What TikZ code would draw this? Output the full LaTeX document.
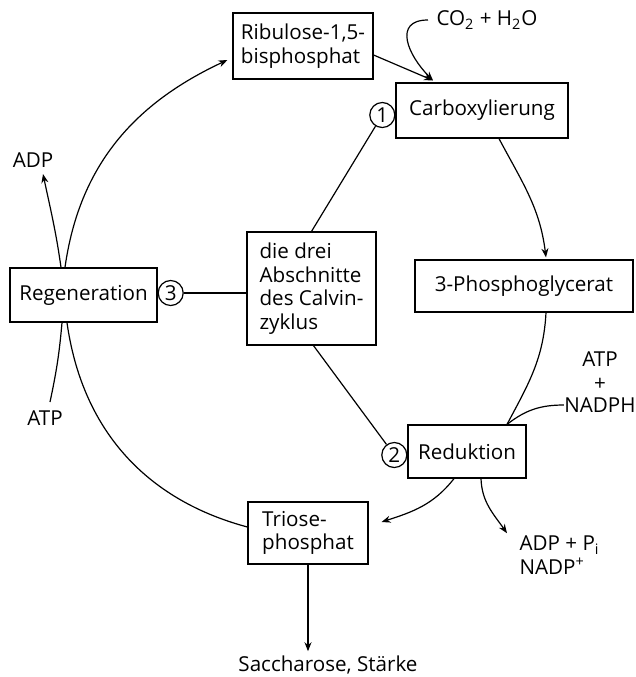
\documentclass[tikz,border=0pt]{standalone}
\usepackage{fontspec}
\setmainfont{Open Sans}
\usetikzlibrary{arrows.meta,positioning,calc}

\begin{document}
\begin{tikzpicture}[x=0.5pt,y=-0.5pt,inner sep=0pt,line width=0.6pt,
                    font=\fontsize{10.3}{11.8}\selectfont,
                    >={Stealth[length=4.5pt,width=3.5pt]},
                    box/.style={draw,align=left},
                    num/.style={circle,draw,minimum size=12.5pt}]
    \useasboundingbox (0,0) rectangle (636,677);

    % Kasten
    \node at (303,  46.0) (ribu)   [box,minimum width=70pt,minimum height=33pt]   {Ribulose-1,5-\\bisphosphat};
    \node at (482, 110.5) (carb)   [box,minimum width=86pt,minimum height=27.5pt] {Carboxylierung};
    \node at (524, 286.0) (phos)   [box,minimum width=109pt,minimum height=26pt]  {3-Phosphoglycerat};
    \node at (311.5,288.5) (drei)  [box,minimum width=64.5pt,minimum height=56.5pt] {die drei\\Abschnitte\\des Calvin-\\zyklus};
    \node at (83.5, 295.0) (regen) [box,minimum width=73.5pt,minimum height=27pt] {Regeneration};
    \node at (467, 451.5) (redu)   [box,minimum width=59pt,minimum height=26.5pt] {Reduktion};
    \node at (308, 533.0) (triose) [box,minimum width=60pt,minimum height=31pt]   {Triose-\\phosphat};

    % Nummern
    \node (c1) [num,left=0pt of carb,yshift=-2.25pt]  {1};
    \node (c2) [num,left=0pt of redu,yshift=-1.75pt]  {2};
    \node (c3) [num,right=0pt of regen,yshift=1pt]    {3};

    % Stoffe
    \node at (436, 20)  (co2)   [anchor=west]  {CO\textsubscript{2} + H\textsubscript{2}O};
    \node at (33, 160)  (adp1)                 {ADP};
    \node at (45, 418)  (atp1)                 {ATP};
    \node at (600, 371) (atp2)  [align=center] {ATP\\+};
    \node at (600, 405) (nadph)                {NADPH};
    \node at (519, 555) (adpp)  [anchor=west,align=left] {ADP + P\textsubscript{i}\\NADP\textsuperscript{+}};
    \node at (328, 665) (sacch)                {Saccharose, Stärke};

    \coordinate (cin) at ([xshift=-24.5pt,yshift=1pt]carb.north);
    \coordinate (rin) at ([xshift=20pt]redu.north);

    % Zyklus
    \draw [->] ([xshift=-9.25pt]regen.north) to [out=82,in=205] ([xshift=-2.5pt,yshift=-7pt]ribu.west);
    \draw [->] ([yshift=-4.5pt]ribu.east) -- (cin);
    \draw [->] ([xshift=-4pt]co2.west) to [out=180,in=135,looseness=1.5] (cin);
    \draw [->] ([xshift=8.5pt]carb.south) to [out=-62,in=97] ([xshift=11pt,yshift=1pt]phos.north);
    \draw      ([xshift=11pt]phos.south) to [out=-93,in=62] (rin);
    \draw      (nadph.west) to [out=180,in=38] (rin);
    \draw [->] ([xshift=-6.5pt]redu.south) to [out=-128,in=18] ([xshift=6.5pt,yshift=5.5pt]triose.east);
    \draw [->] ([xshift=7pt]redu.south) to [out=-88,in=125] ([xshift=-6pt,yshift=1pt]adpp.north west);
    \draw [->] (triose.south) -- ([yshift=2pt]triose.south |- sacch.north);
    \draw      ([xshift=-8.25pt]regen.south) to [out=-82,in=165] ([yshift=3pt]triose.west);
    \draw [->] ([xshift=-11.25pt]regen.north) to [out=98,in=-78] ([xshift=5pt,yshift=-3pt]adp1.south);
    \draw      ([xshift=2.5pt,yshift=4pt]atp1.north) to [out=78,in=-95] ([xshift=-10.75pt]regen.south);

    % Abschnitte
    \draw (c1) -- (drei.north);
    \draw (c2) -- ([xshift=1pt]drei.south);
    \draw (c3) -- (c3 -| drei.west);
\end{tikzpicture}
\end{document}
